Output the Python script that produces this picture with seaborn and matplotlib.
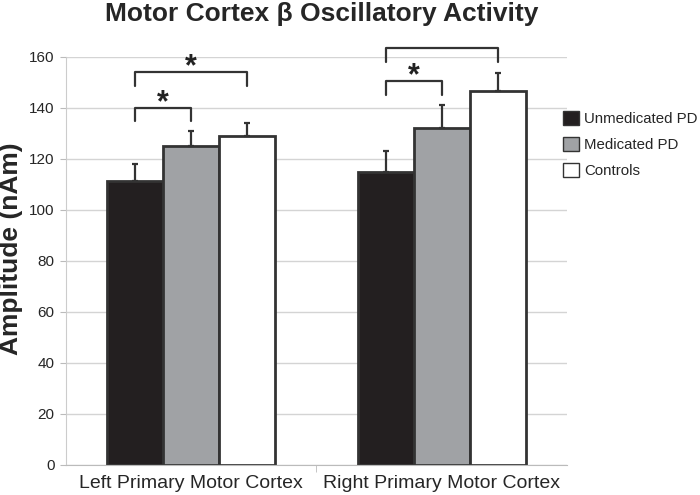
import pandas as pd
import numpy as np
import matplotlib
matplotlib.use("Agg")
import matplotlib.pyplot as plt
import seaborn as sns

# values
regions = ["Left Primary Motor Cortex", "Right Primary Motor Cortex"]
groups = ["Unmedicated PD", "Medicated PD", "Controls"]
amp_left = [111.5, 125.0, 129.0]
amp_right = [115.0, 132.0, 146.5]
err_left = [6.5, 6.0, 5.0]
err_right = [8.0, 9.0, 7.2]
colors = ["#231f20", "#a0a2a5", "#ffffff"]

# significance brackets: (region index, group a, group b, height, star?)
brackets = [(0, 0, 1, 140, True), (0, 0, 2, 154, True),
            (1, 0, 1, 150.5, True), (1, 0, 2, 163.5, False)]

rows = []
for r, vals, errs in [(regions[0], amp_left, err_left), (regions[1], amp_right, err_right)]:
    for g, v, e in zip(groups, vals, errs):
        rows.append({"region": r, "group": g, "amp": v, "err": e})
data = pd.DataFrame(rows)

sns.set_style("white")
plt.rcParams['font.family'] = ['Liberation Sans', 'DejaVu Sans']

fig = plt.figure(figsize=(7, 4.95), dpi=100)
ax = fig.add_axes([0.094, 0.061, 0.716, 0.824])

sns.barplot(data=data, x="region", y="amp", hue="group", hue_order=groups,
            order=regions, palette=colors, errorbar=None, width=0.67,
            edgecolor="#333333", linewidth=2, saturation=1, ax=ax)

# upper error bars only, placed on bar centres
centers = {}
bar_containers = list(ax.containers)
for i, cont in enumerate(bar_containers):
    sub = data[data["group"] == groups[i]].set_index("region").loc[regions]
    xs = [p.get_x() + p.get_width() / 2 for p in cont.patches]
    for j, x in enumerate(xs):
        centers[(j, i)] = x
    ax.errorbar(xs, sub["amp"], yerr=[np.zeros(len(xs)), sub["err"]],
                fmt="none", ecolor="#333333", elinewidth=1.6, capsize=2.5,
                capthick=1.6, zorder=1)

for r, a, b, h, star in brackets:
    x1, x2 = centers[(r, a)], centers[(r, b)]
    ax.plot([x1, x1, x2, x2], [h - 5.3, h, h, h - 5.3], color="#333333",
            lw=1.6, clip_on=False)
    if star:
        ax.text((x1 + x2) / 2, h - 1.2, "*", ha="center", va="baseline",
                fontsize=22, fontweight="bold", color="#222222")

ax.set_ylim(0, 160)
ax.set_yticks(range(0, 161, 20))
ax.set_xlim(-0.5, 1.5)
ax.yaxis.grid(True, color="#d4d4d4", lw=1)
ax.set_axisbelow(True)
for s in ["top", "right"]:
    ax.spines[s].set_visible(False)
ax.spines["left"].set_color("#cccccc")
ax.spines["bottom"].set_color("#bbbbbb")
ax.tick_params(axis="y", left=True, length=4, color="#bbbbbb", labelsize=11, pad=4)
ax.tick_params(axis="x", bottom=False, labelsize=14, pad=4)
ax.set_xticks([0.5], minor=True)
ax.tick_params(axis="x", which="minor", bottom=True, length=5, color="#bbbbbb")

ax.set_xlabel("")
ax.set_ylabel("Amplitude (nAm)", fontsize=19, fontweight="bold")
ax.yaxis.set_label_coords(-0.085, 0.53)
fig.suptitle("Motor Cortex β Oscillatory Activity", x=0.46, y=0.995,
             fontsize=19, fontweight="bold")

leg = ax.legend(loc="upper left", bbox_to_anchor=(0.992, 0.868), frameon=False,
                fontsize=10.8, handlelength=1.1, handleheight=1.1,
                handletextpad=0.33, labelspacing=0.72, borderaxespad=0,
                borderpad=0)
for h in leg.legend_handles:
    h.set_linewidth(1)
    h.set_edgecolor("#333333")

fig.savefig("out.png", dpi=100)
